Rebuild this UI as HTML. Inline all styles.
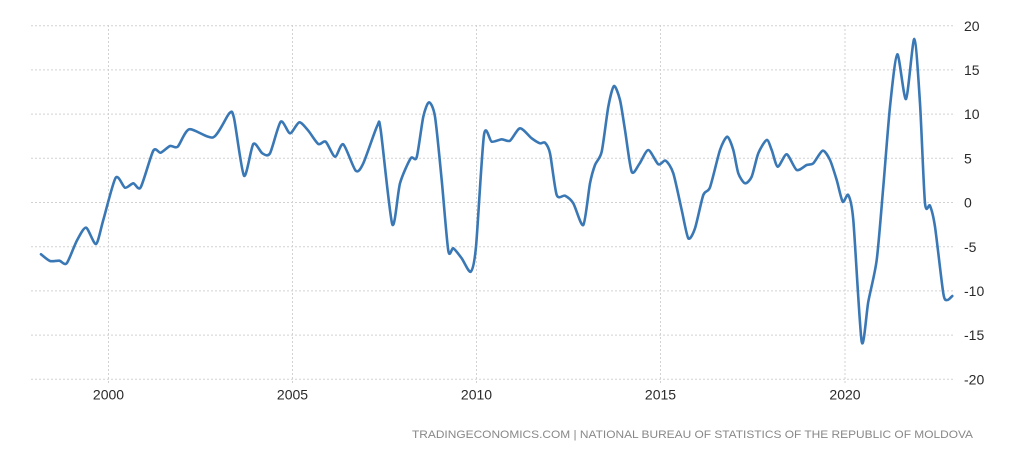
<!DOCTYPE html>
<html><head><meta charset="utf-8">
<style>
html,body{margin:0;padding:0;background:#fff;}
svg{display:block;}
text{font-family:"Liberation Sans","DejaVu Sans",sans-serif;}
</style></head>
<body>
<svg width="1036" height="455" viewBox="0 0 1036 455" xmlns="http://www.w3.org/2000/svg">
<g stroke="#d2d2d2" stroke-width="1" stroke-dasharray="2,2" fill="none">
<line x1="31" y1="25.7" x2="953" y2="25.7"/>
<line x1="31" y1="69.9" x2="953" y2="69.9"/>
<line x1="31" y1="114.1" x2="953" y2="114.1"/>
<line x1="31" y1="158.3" x2="953" y2="158.3"/>
<line x1="31" y1="202.5" x2="953" y2="202.5"/>
<line x1="31" y1="246.7" x2="953" y2="246.7"/>
<line x1="31" y1="290.9" x2="953" y2="290.9"/>
<line x1="31" y1="335.1" x2="953" y2="335.1"/>
<line x1="31" y1="379.3" x2="953" y2="379.3"/>
<line x1="108.5" y1="25" x2="108.5" y2="384"/>
<line x1="292.5" y1="25" x2="292.5" y2="384"/>
<line x1="476.5" y1="25" x2="476.5" y2="384"/>
<line x1="660.5" y1="25" x2="660.5" y2="384"/>
<line x1="845" y1="25" x2="845" y2="384"/>
</g>
<g fill="#2a2a2a" font-size="14">
<text x="964" y="31">20</text>
<text x="964" y="75">15</text>
<text x="964" y="119">10</text>
<text x="964" y="163.5">5</text>
<text x="964" y="207.5">0</text>
<text x="964" y="252">-5</text>
<text x="964" y="296">-10</text>
<text x="964" y="340">-15</text>
<text x="964" y="384.5">-20</text>
</g>
<g fill="#2a2a2a" font-size="14" text-anchor="middle">
<text x="108.5" y="399.5">2000</text>
<text x="292.5" y="399.5">2005</text>
<text x="476.5" y="399.5">2010</text>
<text x="660.5" y="399.5">2015</text>
<text x="845" y="399.5">2020</text>
</g>
<text x="412" y="438" font-size="11" fill="#888" textLength="561" lengthAdjust="spacingAndGlyphs">TRADINGECONOMICS.COM  |  NATIONAL  BUREAU  OF  STATISTICS  OF  THE  REPUBLIC  OF  MOLDOVA</text>
<polyline id="pl" fill="none" stroke="#3a78b5" stroke-width="2.6" stroke-linejoin="round" stroke-linecap="round" points="41,254.3 50,261 59.3,260.7 66.7,263.3 76.7,241 86,227.7 96,244 103.3,220 115.7,177.7 125,187.7 133.3,183.3 140.7,187.3 153.3,150.7 160.7,152.7 170,146 177.7,146.7 189.3,129.3 213.3,137.3 229.3,113.3 234,118 244,175.7 253.3,144 262.3,153.3 270,153.3 280.7,121.7 290,133.3 299.3,122.3 308.3,130.7 318.3,144 325.7,141.7 335,156.7 343.3,144.3 355.7,170.7 363.3,163.3 377.3,125.7 380.7,130 392.3,224.3 400,183.3 410.7,158.3 416.7,157.3 423.3,116.7 429,102.3 435,116.7 441.7,180 448.3,250.7 453.3,248.3 461.7,258.3 470.7,271.7 476,246.7 484,135 491.7,141.7 501.7,139.3 510,140.7 520,128.3 531.7,138.3 540,143.3 545,142.7 550,153.3 556.7,195 565,195.7 573.3,203.3 583.3,225 590,183.3 595,165 601.7,151.7 608.3,106.7 614,86 620,100 625,130 631.7,171.7 639.3,164 648.3,150 658.3,164.3 665.7,160.7 673.3,173.3 681.7,210 688.3,238.3 695,228.3 703.3,195 710,187.3 720,150 727.3,136.7 733.3,150 738.3,173.3 745,183.3 751.7,176.7 758.3,153.3 766.7,140 771.7,150 777.7,166.7 786.7,154.3 796.7,170 806.7,165 813.3,163.3 822.7,150.7 830,160 836.7,180 842.7,201.7 848.3,195 853.3,220 861.7,341.7 868.3,301.7 876.7,260 883.3,186.7 890,106.7 897.3,54.3 906,99 914.3,39 920,103.3 925,203.3 930,205.7 935,226.7 943.3,293.3 947.3,300 952.3,296"/>
<path id="sm" fill="none" stroke="#3a78b5" stroke-width="2.6" stroke-linejoin="round" stroke-linecap="round" d=""/>
</svg>
<script>
(function(){
var pl=document.getElementById('pl');
var s=pl.getAttribute('points').trim().split(/\s+/).map(function(p){var a=p.split(',');return [+a[0],+a[1]];});
var d='M'+s[0][0]+','+s[0][1];
var k=8;
for(var i=0;i<s.length-1;i++){
var p0=s[i-1]||s[i],p1=s[i],p2=s[i+1],p3=s[i+2]||s[i+1];
var c1x=p1[0]+(p2[0]-p0[0])/k,c1y=p1[1]+(p2[1]-p0[1])/k;
var c2x=p2[0]-(p3[0]-p1[0])/k,c2y=p2[1]-(p3[1]-p1[1])/k;
d+=' C'+c1x.toFixed(2)+','+c1y.toFixed(2)+' '+c2x.toFixed(2)+','+c2y.toFixed(2)+' '+p2[0]+','+p2[1];
}
document.getElementById('sm').setAttribute('d',d);
pl.style.display='none';
})();
</script>
</body></html>
